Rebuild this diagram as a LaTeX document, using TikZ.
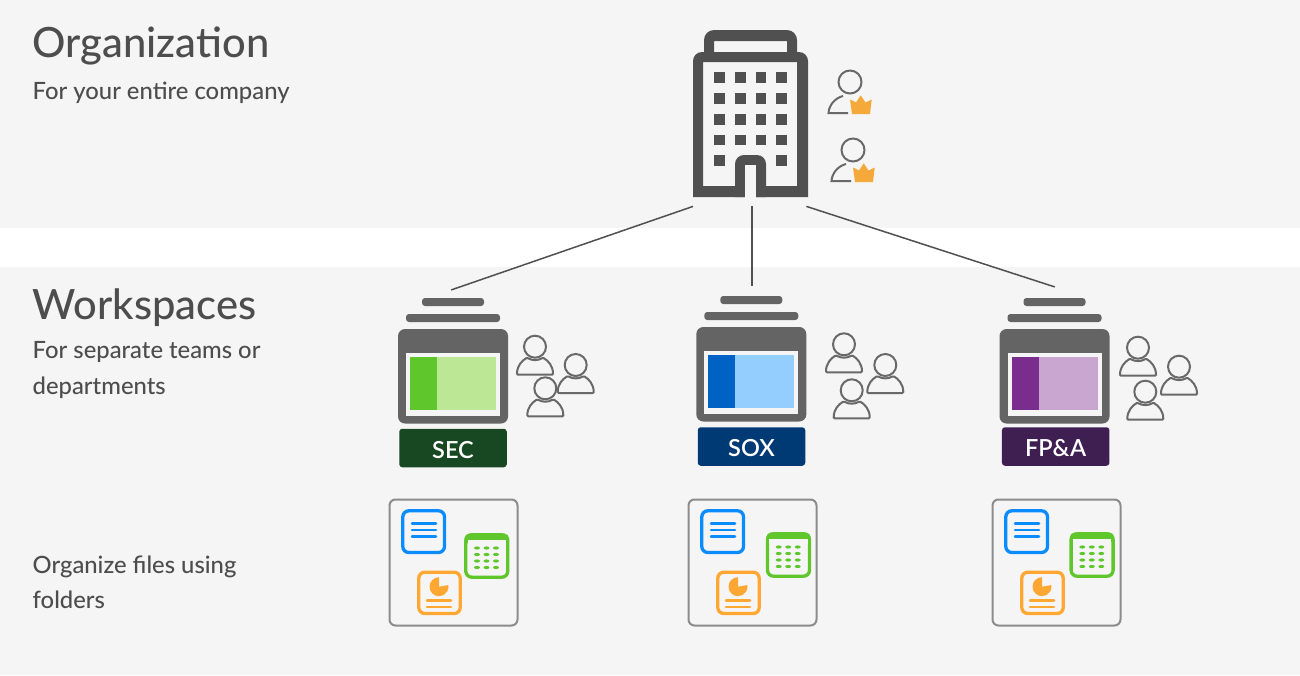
\documentclass[tikz,border=0pt]{standalone}
\usepackage{fontspec}
\setmainfont{Lato Medium}
\newfontfamily\tagfont{Lato Semibold}
\definecolor{pagebg}{HTML}{F5F5F5}
\definecolor{inktext}{HTML}{4D4D4D}
\definecolor{inkorg}{HTML}{505050}
\definecolor{inkws}{HTML}{646464}
\definecolor{inkuser}{HTML}{696969}
\definecolor{crown}{HTML}{F5A93A}
\definecolor{filebox}{HTML}{8C8C8C}
\definecolor{fileblue}{HTML}{0A8CFF}
\definecolor{filegreen}{HTML}{5FC62B}
\definecolor{fileorange}{HTML}{FFA733}
\definecolor{secdark}{HTML}{5FC62B}
\definecolor{seclight}{HTML}{BCE896}
\definecolor{seclabel}{HTML}{184822}
\definecolor{soxdark}{HTML}{0062C4}
\definecolor{soxlight}{HTML}{94CEFF}
\definecolor{soxlabel}{HTML}{003A75}
\definecolor{fpadark}{HTML}{7A2D8C}
\definecolor{fpalight}{HTML}{C9A6CF}
\definecolor{fpalabel}{HTML}{3F1F52}
\tikzset{
   title/.style={anchor=base west,inner sep=0pt,text=inktext,font=\fontsize{41.7}{42}\selectfont},
   blurb/.style={anchor=base west,inner sep=0pt,text=inktext,font=\fontsize{23.8}{24}\selectfont},
   tag/.style={rounded corners=3pt,minimum width=107.5pt,minimum height=38.5pt,inner sep=0pt,text height=20pt,text depth=0pt,text=white,font=\tagfont\fontsize{23.5}{24}\selectfont},
   link/.style={inkorg,line width=1.5pt},
   port/.style={inner sep=0pt,minimum size=0pt},
   usr/.style={inkuser,line width=2pt,fill=pagebg}
}
% one member of a team, head centre at #1,#2
\newcommand{\teamuser}[2]{
   \begin{scope}[shift={(#1,#2)}]
      \draw[usr,rounded corners=1pt] (-18,28) .. controls (-18,19) and (-13,14) .. (-8,11) .. controls (-3,14) and (3,14) .. (8,11) .. controls (13,14) and (18,19) .. (18,28) -- cycle;
      \draw[usr] (0,0) circle(11);
   \end{scope}
}
% an admin with a crown, head centre at #1,#2
\newcommand{\adminuser}[2]{
   \begin{scope}[shift={(#1,#2)}]
      \draw[usr] (0,0) circle(11.5);
      \draw[inkuser,line width=2pt] (-7,14) .. controls (-15,16) and (-21,23) .. (-21.5,31) -- (-2,31);
      \fill[crown] (0,17.5) -- (6,20.5) -- (10.7,13.3) -- (15.5,20.5) -- (21.7,17.5) -- (20,32) -- (2,32) -- cycle;
   \end{scope}
}
% workspace icon, top left corner of the body at #1,#2
\newcommand{\wsicon}[4]{
   \begin{scope}[shift={(#1,#2)}]
      \fill[inkws,rounded corners=3pt] (24,-31) rectangle (86,-23);
      \fill[inkws,rounded corners=3pt] (8,-15) rectangle (102,-7);
      \fill[inkws,rounded corners=7pt] (0,0) rectangle (110,94.5);
      \fill[pagebg] (8,24) rectangle (102,87);
      \fill[#4] (12,28) rectangle (98,81);
      \fill[#3] (12,28) rectangle (39,81);
   \end{scope}
}
% folder with three files, top left corner at #1,#2, sheet moved by #3,#4
\newcommand{\filebox}[4]{
   \begin{scope}[shift={(#1,#2)}]
      \draw[filebox,line width=2pt,rounded corners=6pt] (0.5,0.5) rectangle (128.5,126.5);
      \draw[fileblue,line width=3.3pt,rounded corners=6pt] (13.8,11.8) rectangle (55.5,53.5);
      \draw[fileblue,line width=2.5pt,line cap=round] (23,24.5) -- (47,24.5);
      \draw[fileblue,line width=2.5pt,line cap=round] (23,31) -- (47,31);
      \draw[fileblue,line width=2.5pt,line cap=round] (23,37.5) -- (47,37.5);
      \draw[fileorange,line width=3.3pt,rounded corners=6pt] (29.8,73.2) rectangle (71.2,114.5);
      \fill[fileorange] (50,87.7) -- (50,78.2) arc[start angle=-90,end angle=-370,radius=9.5] -- cycle;
      \draw[fileorange,line width=2.5pt,line cap=round] (38,101.5) -- (62,101.5);
      \draw[fileorange,line width=2.5pt,line cap=round] (38,108) -- (62,108);
      \begin{scope}[shift={(#3,#4)}]
         \draw[filegreen,line width=3.3pt,rounded corners=6pt] (76.8,35.8) rectangle (118.8,78.2);
         \fill[filegreen,rounded corners=5pt] (75.5,34.5) rectangle (120,45);
         \fill[pagebg] (78.5,41) rectangle (117,46);
         \fill[filegreen] (88,49) ellipse(3 and 1.6);
         \fill[filegreen] (97.5,49) ellipse(3 and 1.6);
         \fill[filegreen] (107,49) ellipse(3 and 1.6);
         \fill[filegreen] (88,55.5) ellipse(3 and 1.6);
         \fill[filegreen] (97.5,55.5) ellipse(3 and 1.6);
         \fill[filegreen] (107,55.5) ellipse(3 and 1.6);
         \fill[filegreen] (88,62) ellipse(3 and 1.6);
         \fill[filegreen] (97.5,62) ellipse(3 and 1.6);
         \fill[filegreen] (107,62) ellipse(3 and 1.6);
         \fill[filegreen] (88,68.5) ellipse(3 and 1.6);
         \fill[filegreen] (97.5,68.5) ellipse(3 and 1.6);
         \fill[filegreen] (107,68.5) ellipse(3 and 1.6);
      \end{scope}
   \end{scope}
}
\begin{document}
\begin{tikzpicture}[x=1pt,y=-1pt]
   \useasboundingbox (0,0) rectangle (1300,675);
   \fill[pagebg] (0,0) rectangle (1300,228);
   \fill[pagebg] (0,267) rectangle (1300,675);

   \node[title] (orgtitle) at (32.5,57.5) {Organization};
   \node[blurb] (orgblurb) at (32.5,99) {For your entire company};
   \node[title] (wstitle) at (32.5,319.5) {Workspaces};
   \node[blurb] (wsblurb) at (32.5,358) {For separate teams or};
   \node[blurb] (wsblurbb) at (32.5,394) {departments};
   \node[blurb] (fileblurb) at (32.5,573) {Organize files using};
   \node[blurb] (fileblurbb) at (32.5,608.5) {folders};

   % building
   \fill[inkorg,even odd rule] (704,53) [rounded corners=10pt] -- (704,30) -- (797,30) [sharp corners] -- (797,53) -- cycle (714,41) rectangle (787,52);
   \fill[inkorg,even odd rule] (693,197) [rounded corners=9pt] -- (693,52) -- (808,52) [sharp corners] -- (808,197) -- cycle (703,62) rectangle (797,186);
   \fill[inkorg] (735,197) [rounded corners=9pt] -- (735,155) -- (766,155) [sharp corners] -- (766,197) -- cycle;
   \fill[pagebg] (745,198) -- (745,165) -- (755.5,165) -- (755.5,198) -- cycle;
   \fill[inkorg] (714,72) rectangle (724.5,82.5);
   \fill[inkorg] (735,72) rectangle (745.5,82.5);
   \fill[inkorg] (755.5,72) rectangle (766,82.5);
   \fill[inkorg] (776,72) rectangle (786.5,82.5);
   \fill[inkorg] (714,93) rectangle (724.5,103.5);
   \fill[inkorg] (735,93) rectangle (745.5,103.5);
   \fill[inkorg] (755.5,93) rectangle (766,103.5);
   \fill[inkorg] (776,93) rectangle (786.5,103.5);
   \fill[inkorg] (714,114) rectangle (724.5,124.5);
   \fill[inkorg] (735,114) rectangle (745.5,124.5);
   \fill[inkorg] (755.5,114) rectangle (766,124.5);
   \fill[inkorg] (776,114) rectangle (786.5,124.5);
   \fill[inkorg] (714,134.5) rectangle (724.5,145);
   \fill[inkorg] (735,134.5) rectangle (745.5,145);
   \fill[inkorg] (755.5,134.5) rectangle (766,145);
   \fill[inkorg] (776,134.5) rectangle (786.5,145);
   \fill[inkorg] (714,155) rectangle (724.5,165.5);
   \fill[inkorg] (776,155) rectangle (786.5,165.5);
   \adminuser{850}{82}
   \adminuser{853}{150}

   % connectors
   \node[port,minimum width=113pt,minimum height=176pt,anchor=north west] (org) at (693,30) {};
   \node[port] (sec) at (451,290) {};
   \node[port] (sox) at (752,286) {};
   \node[port] (fpa) at (1055,287) {};
   \draw[link] (org.south west) -- (sec);
   \draw[link] (org.south -| sox) -- (sox);
   \draw[link] (org.south east) -- (fpa);

   % workspaces
   \wsicon{398}{329}{secdark}{seclight}
   \wsicon{696.3}{327}{soxdark}{soxlight}
   \wsicon{999.5}{329}{fpadark}{fpalight}
   \node[tag,fill=seclabel] (seclabel) at (453,448) {SEC};
   \node[tag,fill=soxlabel] (soxlabel) at (751.5,446.5) {SOX};
   \node[tag,fill=fpalabel] (fpalabel) at (1055.7,446.5) {FP\&A};

   % users of each workspace
   \teamuser{535}{346.7}
   \teamuser{575.7}{365}
   \teamuser{545.3}{388.3}
   \teamuser{844}{344.3}
   \teamuser{885.3}{365}
   \teamuser{851.7}{390.3}
   \teamuser{1138}{347.7}
   \teamuser{1179}{366.7}
   \teamuser{1145.3}{391.7}

   % files
   \filebox{389}{499}{0}{0}
   \filebox{688}{499}{2.7}{-1}
   \filebox{992}{499}{2.3}{-1}
\end{tikzpicture}
\end{document}
